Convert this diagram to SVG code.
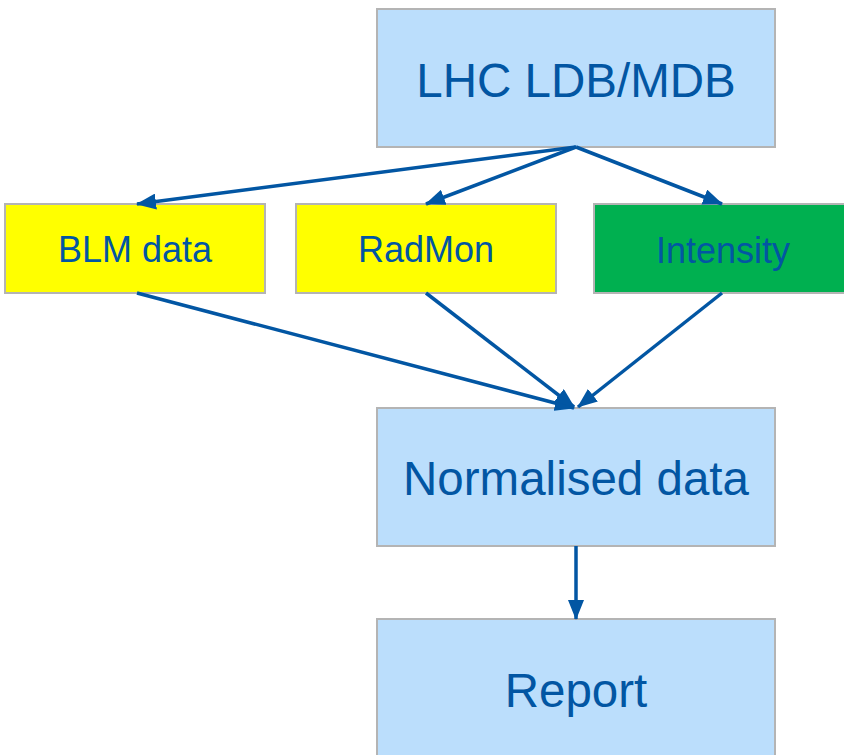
<svg xmlns="http://www.w3.org/2000/svg" width="844" height="755" viewBox="0 0 844 755">
<style>
.box{stroke:#b4b4b4;stroke-width:2}
.blue{fill:#bbdefc}
.yellow{fill:#ffff00}
.green{fill:#00b050}
.t{font-family:"Liberation Sans",Arial,sans-serif;fill:#0256a3;text-anchor:middle}
.big{font-size:47.5px}
.small{font-size:36px}
.c{stroke:#0256a3;stroke-width:3.5;fill:none;marker-end:url(#ah)}
</style>
<defs>
<marker id="ah" markerUnits="userSpaceOnUse" markerWidth="20" markerHeight="16" refX="19" refY="8" orient="auto" viewBox="0 0 20 16">
<path d="M0,0 L20,8 L0,16 Z" fill="#0256a3"/>
</marker>
</defs>
<rect width="844" height="755" fill="#ffffff"/>
<g id="lhc">
<rect class="box blue" x="377" y="9" width="398" height="138"/>
<text class="t big" x="576" y="97">LHC LDB/MDB</text>
</g>
<g id="blm">
<rect class="box yellow" x="5" y="204" width="260" height="89"/>
<text class="t small" x="135" y="262">BLM data</text>
</g>
<g id="radmon">
<rect class="box yellow" x="296" y="204" width="260" height="89"/>
<text class="t small" x="426" y="262">RadMon</text>
</g>
<g id="intensity">
<rect class="box green" x="594" y="204" width="262" height="89"/>
<text class="t small" x="723" y="263">Intensity</text>
</g>
<g id="normalised">
<rect class="box blue" x="377" y="408" width="398" height="138"/>
<text class="t big" x="576" y="495">Normalised data</text>
</g>
<g id="report">
<rect class="box blue" x="377" y="619" width="398" height="150"/>
<text class="t big" x="576" y="707">Report</text>
</g>
<g id="connectors">
<line class="c" x1="576" y1="147" x2="137" y2="204"/>
<line class="c" x1="576" y1="147" x2="426" y2="204"/>
<line class="c" x1="576" y1="147" x2="722" y2="204"/>
<line class="c" x1="137" y1="293" x2="574" y2="408"/>
<line class="c" x1="426" y1="293" x2="574" y2="407"/>
<line class="c" x1="722" y1="293" x2="578" y2="407"/>
<line class="c" x1="576" y1="546" x2="576" y2="619"/>
</g>
</svg>
